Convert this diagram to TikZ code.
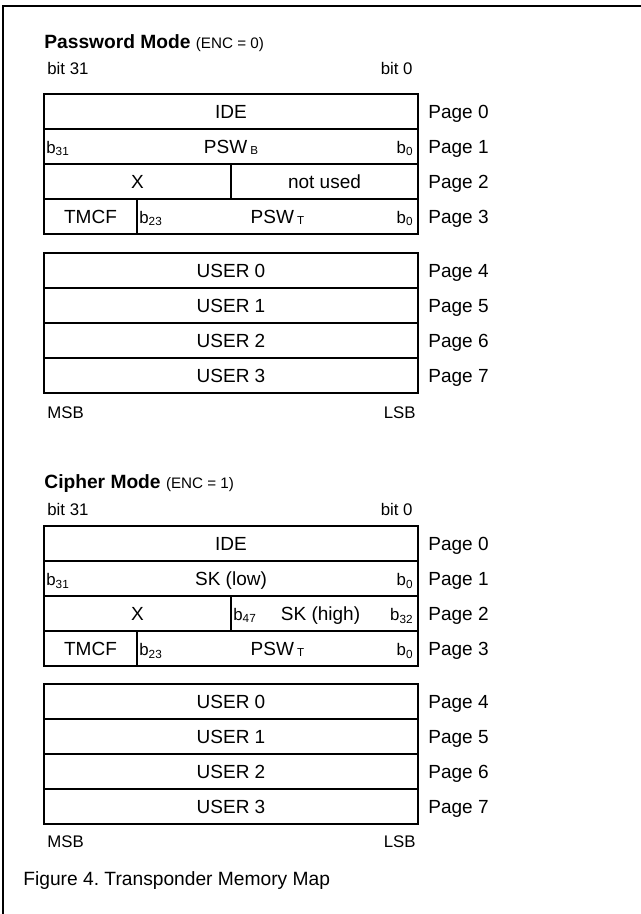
\documentclass[tikz,border=0pt]{standalone}
\usepackage{fontspec}
\setmainfont{Liberation Sans}
\usetikzlibrary{positioning}
\frenchspacing

\begin{document}
\begin{tikzpicture}[x=0.5pt, y=-0.5pt,
    cell/.style={draw, line width=0.6pt, outer sep=0pt, inner sep=0pt,
        minimum height=17.5pt, anchor=north west,
        text height=6.8pt, text depth=0pt, font=\fontsize{9.5}{11}\selectfont},
    page/.style={inner sep=0pt, text height=6.8pt, text depth=0pt,
        font=\fontsize{9.5}{11}\selectfont},
    bitno/.style={inner sep=0pt, font=\fontsize{8.4}{10}\selectfont},
    heading/.style={anchor=base west, inner sep=0pt,
        font=\fontsize{9.6}{11}\selectfont}]
    \useasboundingbox (0,0) rectangle (641,914);
    \draw[line width=1pt] (641,5.7) -- (2.5,5.7) -- (2.5,914);

    % password mode
    \node[heading] (ptitle) at (44,49)
        {\textbf{Password Mode} {\fontsize{7.6}{9}\selectfont(ENC = 0)}};
    \node[bitno, anchor=base west] (pmsbit) at (47,75) {bit 31};
    \node[bitno, anchor=base east] (plsbit) at (413,75) {bit 0};
    \node[cell, minimum width=187pt] (pide) at (44,94) {IDE};
    \node[cell, minimum width=187pt] (ppswb) at (pide.south west)
        {PSW\,\raisebox{-0.4pt}{\fontsize{5.8}{6}\selectfont B}};
    \node[bitno, anchor=base west, xshift=1pt] at (ppswb.west |- ppswb.base) {b\textsubscript{31}};
    \node[bitno, anchor=base east, xshift=-2pt] at (ppswb.east |- ppswb.base) {b\textsubscript{0}};
    \node[cell, minimum width=93.5pt] (px) at (ppswb.south west) {X};
    \node[cell, minimum width=93.5pt] (pnu) at (px.north east) {not used};
    \node[cell, minimum width=46.5pt] (ptmcf) at (px.south west) {TMCF};
    \node[cell, minimum width=140.5pt] (ppswt) at (ptmcf.north east)
        {PSW\,\raisebox{-0.4pt}{\fontsize{5.8}{6}\selectfont T}};
    \node[bitno, anchor=base west, xshift=1pt] at (ppswt.west |- ppswt.base) {b\textsubscript{23}};
    \node[bitno, anchor=base east, xshift=-2pt] at (ppswt.east |- ppswt.base) {b\textsubscript{0}};
    \foreach \n/\p in {pide/0,ppswb/1,pnu/2,ppswt/3}
        \node[page, right=5pt of \n] (ppage\p) {Page \p};
    \foreach \i/\p in {0/4,1/5,2/6,3/7}{
        \node[cell, minimum width=187pt] (puser\i) at (44,253+35*\i) {USER \i};
        \node[page, right=5pt of puser\i] (ppage\p) {Page \p};
      }
    \node[bitno, anchor=base west] (pmsb) at (47,418) {MSB};
    \node[bitno, anchor=base east] (plsb) at (416,418) {LSB};

    % cipher mode
    \node[heading] (ctitle) at (44,488)
        {\textbf{Cipher Mode} {\fontsize{7.6}{9}\selectfont(ENC = 1)}};
    \node[bitno, anchor=base west] (cmsbit) at (47,515) {bit 31};
    \node[bitno, anchor=base east] (clsbit) at (413,515) {bit 0};
    \node[cell, minimum width=187pt] (cide) at (44,526) {IDE};
    \node[cell, minimum width=187pt] (cskl) at (cide.south west) {SK (low)};
    \node[bitno, anchor=base west, xshift=1pt] at (cskl.west |- cskl.base) {b\textsubscript{31}};
    \node[bitno, anchor=base east, xshift=-2pt] at (cskl.east |- cskl.base) {b\textsubscript{0}};
    \node[cell, minimum width=93.5pt] (cx) at (cskl.south west) {X};
    \node[cell, minimum width=93.5pt] (cskh) at (cx.north east) {\hspace{-4pt}SK (high)};
    \node[bitno, anchor=base west, xshift=1pt] at (cskh.west |- cskh.base) {b\textsubscript{47}};
    \node[bitno, anchor=base east, xshift=-2pt] at (cskh.east |- cskh.base) {b\textsubscript{32}};
    \node[cell, minimum width=46.5pt] (ctmcf) at (cx.south west) {TMCF};
    \node[cell, minimum width=140.5pt] (cpswt) at (ctmcf.north east)
        {PSW\,\raisebox{-0.4pt}{\fontsize{5.8}{6}\selectfont T}};
    \node[bitno, anchor=base west, xshift=1pt] at (cpswt.west |- cpswt.base) {b\textsubscript{23}};
    \node[bitno, anchor=base east, xshift=-2pt] at (cpswt.east |- cpswt.base) {b\textsubscript{0}};
    \foreach \n/\p in {cide/0,cskl/1,cskh/2,cpswt/3}
        \node[page, right=5pt of \n] (cpage\p) {Page \p};
    \foreach \i/\p in {0/4,1/5,2/6,3/7}{
        \node[cell, minimum width=187pt] (cuser\i) at (44,684+35*\i) {USER \i};
        \node[page, right=5pt of cuser\i] (cpage\p) {Page \p};
      }
    \node[bitno, anchor=base west] (cmsb) at (47,847) {MSB};
    \node[bitno, anchor=base east] (clsb) at (416,847) {LSB};

    \node[heading] (caption) at (23,885) {Figure 4. Transponder Memory Map};
  \end{tikzpicture}
\end{document}
